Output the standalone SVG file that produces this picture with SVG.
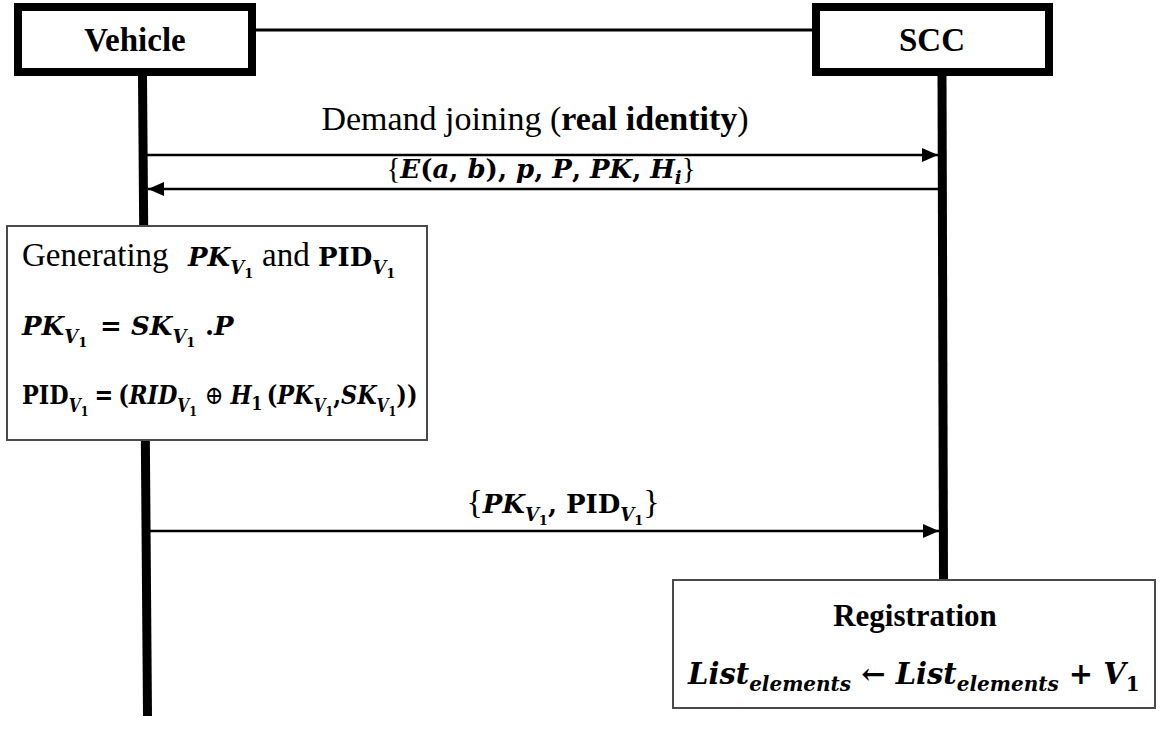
<svg xmlns="http://www.w3.org/2000/svg" width="1168" height="730" viewBox="0 0 1168 730">
  <defs>
    <style>
      .actor { fill: #ffffff; stroke: #000000; stroke-width: 8; }
      .panel { fill: #ffffff; stroke: #4a4a4a; stroke-width: 2; }
      .life { stroke: #000000; stroke-width: 9; fill: none; }
      .msg { stroke: #000000; stroke-width: 2.5; fill: none; }
      .link { stroke: #000000; stroke-width: 3; fill: none; }
      .t { font-family: "Liberation Serif", "Times New Roman", serif; font-size: 33px; fill: #000; }
      .title { font-family: "Liberation Serif", "Times New Roman", serif; font-size: 33px; font-weight: bold; fill: #000; }
      .m { font-family: "DejaVu Serif", serif; font-weight: bold; font-style: italic; }
      .b { font-family: "DejaVu Serif", serif; font-weight: bold; font-style: normal; }
      .op { font-family: "DejaVu Serif", serif; font-weight: normal; font-style: normal; }
      .eq { font-family: "DejaVu Serif", serif; font-size: 26px; fill: #000; }
      .s { font-size: 18px; }
      .ss { font-size: 13px; }
      .br { font-family: "Liberation Serif", "Times New Roman", serif; font-weight: normal; font-style: normal; }
    </style>
    <marker id="arrow" markerUnits="userSpaceOnUse" markerWidth="16" markerHeight="16" viewBox="0 0 16 16" refX="16" refY="8" orient="auto">
      <path d="M0,1 L16,8 L0,15 Z" fill="#000"/>
    </marker>
  </defs>

  <!-- lifelines -->
  <g id="lifelines">
    <line class="life" x1="142.5" y1="76" x2="147.5" y2="716"/>
    <line class="life" x1="942" y1="76" x2="943.5" y2="580"/>
  </g>

  <!-- connectors -->
  <g id="connectors">
    <line class="link" x1="256" y1="30" x2="812" y2="30"/>
    <line class="msg" x1="147" y1="155" x2="938" y2="155" marker-end="url(#arrow)"/>
    <line class="msg" x1="938" y1="189" x2="148" y2="189" marker-end="url(#arrow)"/>
    <line class="msg" x1="147" y1="531" x2="939" y2="531" marker-end="url(#arrow)"/>
  </g>

  <!-- participant: Vehicle -->
  <g id="vehicle">
    <rect class="actor" x="18" y="7" width="234" height="65"/>
    <text class="title" x="135" y="51" text-anchor="middle">Vehicle</text>
  </g>

  <!-- participant: SCC -->
  <g id="scc">
    <rect class="actor" x="816" y="7" width="233" height="65"/>
    <text class="title" x="932" y="51" text-anchor="middle">SCC</text>
  </g>

  <!-- message labels -->
  <g id="label-join">
    <text class="t" x="535" y="130" text-anchor="middle" style="font-size:34px">Demand joining (<tspan font-weight="bold">real identity</tspan>)</text>
  </g>
  <g id="label-params">
    <text class="eq" x="541" y="178" text-anchor="middle"><tspan class="br" style="font-size:29px">{</tspan><tspan class="m">E</tspan><tspan class="b">(</tspan><tspan class="m">a</tspan><tspan class="b">, </tspan><tspan class="m">b</tspan><tspan class="b">), </tspan><tspan class="m">p</tspan><tspan class="b">, </tspan><tspan class="m">P</tspan><tspan class="b">, </tspan><tspan class="m">PK</tspan><tspan class="b">, </tspan><tspan class="m">H</tspan><tspan class="m s" dy="6">i</tspan><tspan class="br" style="font-size:29px" dy="-6">}</tspan></text>
  </g>
  <g id="label-keys">
    <text class="eq" x="563" y="513" text-anchor="middle"><tspan class="br" style="font-size:34px">{</tspan><tspan class="m">PK</tspan><tspan class="m s" dy="8">V</tspan><tspan class="b ss" dy="4">1</tspan><tspan class="b" dy="-12">, PID</tspan><tspan class="m s" dy="8">V</tspan><tspan class="b ss" dy="4">1</tspan><tspan class="br" style="font-size:34px" dy="-12">}</tspan></text>
  </g>

  <!-- vehicle-side computation -->
  <g id="generation">
    <rect class="panel" x="7" y="226" width="420" height="214"/>
    <text class="t" x="22" y="266">Generating</text>
    <text class="eq" x="188" y="266"><tspan class="m">PK</tspan><tspan class="m s" dy="8">V</tspan><tspan class="b ss" dy="4">1</tspan></text>
    <text class="t" x="262" y="266">and</text>
    <text class="eq" x="318" y="266"><tspan class="b">PID</tspan><tspan class="m s" dy="8">V</tspan><tspan class="b ss" dy="4">1</tspan></text>

    <text class="eq" x="22" y="335"><tspan class="m">PK</tspan><tspan class="m s" dy="8">V</tspan><tspan class="b ss" dy="4">1</tspan></text>
    <text class="eq" x="100" y="335"><tspan class="b">=</tspan></text>
    <text class="eq" x="131" y="335"><tspan class="m">SK</tspan><tspan class="m s" dy="8">V</tspan><tspan class="b ss" dy="4">1</tspan></text>
    <text class="eq" x="205" y="335"><tspan class="b">.</tspan><tspan class="m">P</tspan></text>

    <g transform="translate(22,404) scale(0.86,1)">
      <text class="eq" x="0" y="0"><tspan class="b">PID</tspan><tspan class="m s" dy="8">V</tspan><tspan class="b ss" dy="4">1</tspan><tspan class="b" dy="-12" dx="7">=</tspan><tspan class="b" dx="6">(</tspan><tspan class="m">RID</tspan><tspan class="m s" dy="8">V</tspan><tspan class="b ss" dy="4">1</tspan><tspan class="op" dy="-12" dx="9">⊕</tspan><tspan class="m" dx="8">H</tspan><tspan class="b s" dy="6">1</tspan><tspan class="b" dy="-6" dx="5">(</tspan><tspan class="m">PK</tspan><tspan class="m s" dy="8">V</tspan><tspan class="b ss" dy="4">1</tspan><tspan class="b" dy="-12">,</tspan><tspan class="m">SK</tspan><tspan class="m s" dy="8">V</tspan><tspan class="b ss" dy="4">1</tspan><tspan class="b" dy="-12">))</tspan></text>
    </g>
  </g>

  <!-- SCC-side registration -->
  <g id="registration">
    <rect class="panel" x="673" y="580" width="482" height="128"/>
    <text class="t" x="915" y="626" text-anchor="middle" font-weight="bold" style="font-size:31px">Registration</text>
    <text class="eq" x="688" y="684" style="font-size:29px"><tspan class="m">List</tspan><tspan class="m" style="font-size:20px" dy="7">elements</tspan><tspan class="b" dy="-7"> ← </tspan><tspan class="m">List</tspan><tspan class="m" style="font-size:20px" dy="7">elements</tspan><tspan class="b" dy="-7"> + </tspan><tspan class="m">V</tspan><tspan class="b" style="font-size:20px" dy="7">1</tspan></text>
  </g>
</svg>
